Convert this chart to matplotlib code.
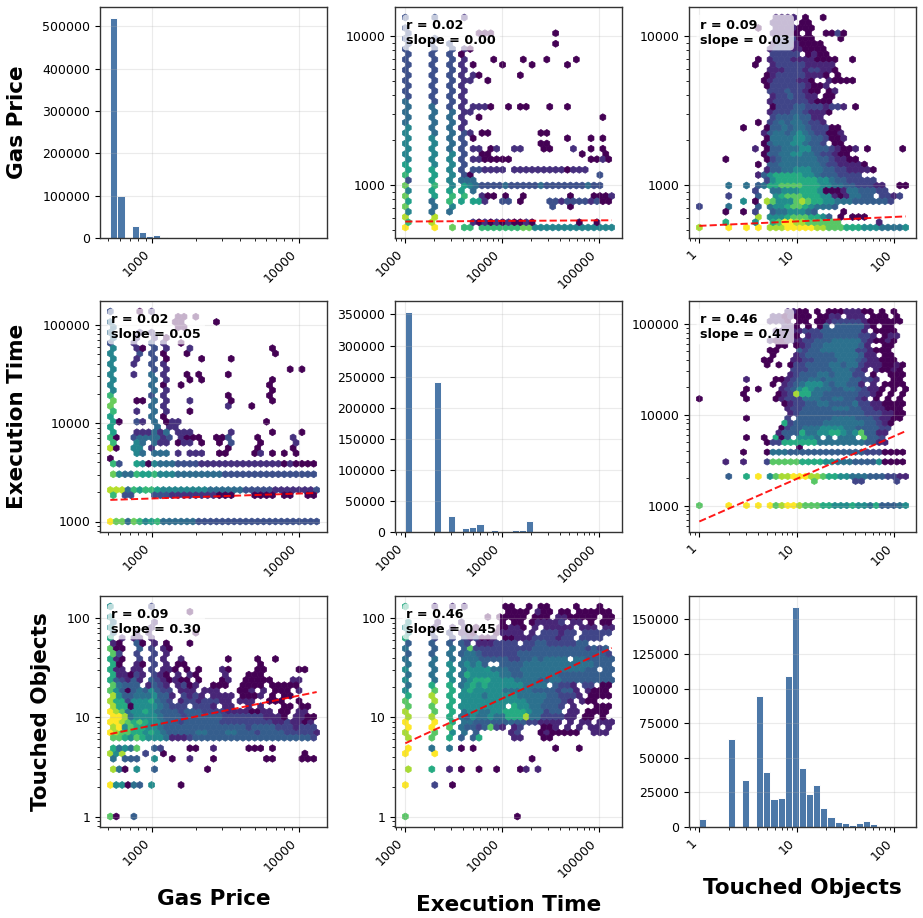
#!/usr/bin/env python3
"""Pair plot of gas price, execution time and touched objects (log-log)."""

import matplotlib
matplotlib.use("Agg")
import matplotlib.pyplot as plt
import matplotlib.ticker as mticker
import numpy as np

NAMES = ["Gas Price", "Execution Time", "Touched Objects"]

# log10 data range of each variable
LOG_LO = [2.714, 3.0, 0.0]
LOG_HI = [4.123, 5.136, 2.117]

# ── Histograms: 29 log-spaced bins per variable ───────────────────────────────
GAS_HIST = [520000, 99000, 0, 29000, 15000, 5500, 8000, 1500, 800, 500, 400, 300, 250,
            200, 150, 150, 120, 100, 100, 80, 80, 60, 60, 50, 50, 40, 40, 30, 30]
EXEC_HIST = [354000, 0, 0, 0, 241800, 0, 25800, 0, 6500, 7500, 13000, 1200, 3500, 500,
             300, 3500, 2500, 17000, 300, 300, 250, 200, 200, 150, 150, 100, 100, 80, 50]
TOUCHED_HIST = [5500, 0, 0, 0, 63400, 0, 33900, 0, 94800, 39700, 20500, 21300, 109400,
                159000, 42600, 24200, 30000, 13800, 7500, 3400, 2700, 1700, 2900, 4100,
                1900, 300, 1000, 300, 100]
HIST_STEP = [100000, 50000, 25000]

# ── Fits drawn in the off-diagonal panels ─────────────────────────────────────
PEARSON = {(0, 1): 0.02, (0, 2): 0.09, (1, 0): 0.02, (1, 2): 0.46, (2, 0): 0.09, (2, 1): 0.46}
SLOPE = {(0, 1): 0.004, (0, 2): 0.03, (1, 0): 0.05, (1, 2): 0.47, (2, 0): 0.30, (2, 1): 0.45}
INTERCEPT = {(0, 1): 2.742, (0, 2): 2.725, (1, 0): 3.084, (1, 2): 2.824, (2, 0): 0.018, (2, 1): -0.612}

# count per density level 0-9, the panels with a wide cloud spread their counts lower
LEVEL_COUNTS = [1, 4, 12, 35, 100, 300, 900, 2500, 8000, 25000]
CLOUD_COUNTS = [1, 3, 8, 20, 44, 140, 480, 1800, 6700, 25000]

# ── Hexagon tallies, row -> "column:levels" runs ──────────────────────────────
GAS_BY_EXEC = {
    40: "0:2 5:2 10:1", 38: "0:2", 37: "0:2 12:000 25:0", 36: "0:2 5:2",
    35: "0:2 4:2 7:2 25:0", 34: "0:2 5:2 8:2 10:1 11:0", 33: "0:2 4:2 7:2 9:0",
    32: "0:2 5:2 8:2 10:1 15:0 20:0 24:0 29:0", 31: "0:2 4:2 7:2 9:1 11:0 16:0 21:0 27:0",
    30: "0:2 5:2 8:2 10:1", 29: "0:2 4:2 7:2 9:1 11:1 12:0 19:0", 28: "0:2 5:2 8:2 10:1 11:1 14:0",
    27: "0:2 4:2 7:2 9:1", 26: "0:2 5:2 8:2 10:1", 25: "0:2 4:2 7:2 9:1",
    24: "0:3 5:2 8:2 10:1", 23: "0:3 4:3 7:2 9:1 11:1110 17:0 19:00 24:0 27:0",
    22: "0:3 5:3 8:3 10:11", 21: "0:3 4:3 7:3 9:1 12:0 33:0", 20: "0:3 5:3 8:3 10:1",
    19: "0:4 4:3 7:3 9:1", 18: "0:4 5:3 8:3 10:2 11:1 13:00 23:00",
    17: "0:4 4:4 7:3 9:2 11:0 27:0 31:0 33:0", 16: "0:4 5:4 8:3 10:2 23:00",
    15: "0:4 4:4 7:3 9:2 11:11 14:01 18:11 23:00 28:1 31:0 33:0",
    14: "0:4 5:4 8:4 10:2 13:00 30:0 34:0", 13: "0:4 4:4 7:4 9:2 11:110000 17:0 31:00 33:10",
    12: "0:5 5:4 8:4 10:2", 11: "0:5 4:5 7:4 9:2 11:221111 18:1111111110111",
    10: "0:6 5:5 8:4 10:20 33:2", 9: "0:2 4:5 7:4 9:333",
    8: "0:7 5:6 8:4 10:5432222 17:3222223222 27:2222322",
    7: "0:4 4:5 7:5 9:5 11:3",
    6: "0:7 5:5 8:6 10:6 13:100 17:0 20:0 28:0 32:0001",
    5: "0:5 4:3 7:6 9:5 11:551 16:22 19:0 24:22122221200", 4: "0:7 5:3 8:4 25:2 28:0",
    3: "0:4 4:3 7:3", 2: "0:8 5:8", 1: "0:6 4:8 11:10101010010 29:0 32:0",
    0: "0:9 5:9 8:7 10:66 13:66666667 21:7 22:44444444444444",
}
GAS_BY_TOUCHED = {
    40: "13:1111 18:0 21:0", 39: "12:1111 17:00", 38: "10:0 13:1111 17:000",
    37: "12:1111 16:0 18:0 21:0020", 36: "13:2222 17:000 24:0", 35: "12:12221 17:0000",
    34: "12:12221 17:10000", 33: "12:22222 18:0100", 32: "10:0 12:122211110000 26:0",
    31: "9:0 12:12222211111", 30: "12:111222122110", 29: "11:0 12:1222221110 23:0",
    28: "11:0 12:12222110 22:10 24:000", 27: "11:0 12:22222210 20:01", 26: "12:22232210 20:0 22:01",
    25: "12:12232211 21:0 22:0", 24: "12:12222221 20:0 21:00", 23: "12:0222332221 22:22 24:1 26:0",
    22: "12:1222332111 22:0", 21: "12:233343311", 20: "10:0 12:2343443221",
    19: "7:0 11:0 12:3343443222 22:00", 18: "11:1 12:3443454322 22:001", 17: "11:0 12:4444554332 22:001",
    16: "11:0 12:3444554332 23:00", 15: "9:1 11:0 12:33444553 20:3321 24:001 28:0 34:0",
    14: "11:0 12:3344554432 22:2100", 13: "4:0 11:0 12:2344444433 22:21100",
    12: "10:0 12:3344444443 22:2211110", 11: "11:1 12:33445554433 23:2211110",
    10: "10:1 11:3 12:5666665543 22:332222", 9: "11:2 12:5666666655 21:443322222",
    8: "5:4 8:4 10:3 11:4 12:6677776665 22:5443322211 34:00", 7: "9:2 12:445556665 21:0 22:001 25:4433322",
    6: "5:2 10:3 13:5677766655 23:1014433 31:2212", 5: "7:5 9:0 11:87 13:5557876655 23:4443333332",
    4: "0:2 5:4 10:3 12:45567765 20:4443", 3: "4:0 7:0 9:2 12:3445554 19:3 24:0",
    2: "10:8 12:5556777665 22:3 24:0 26:000", 1: "4:6 9:5 12:67 14:99 16:88777 21:777 30:1",
    0: "0:8 5:9 8:9 10:9 12:888 15:99999 20:88 22:7776 26:6655 30:5444 34:45",
}
EXEC_BY_GAS = {
    40: "0:2 5:0 7:1", 39: "11:0 12:0 14:0", 38: "0:3 11:00 18:0", 37: "0:3 11:00", 36: "0:3 5:1 7:1",
    35: "0:3 4:1 7:1 9:0", 34: "0:2 4:1 7:2 9:1 12:0", 33: "0:4 4:1 5:0 7:2 9:1 13:1 27:0",
    32: "0:4 5:2 7:2 9:0 13:0 28:0", 31: "0:4 4:1 7:2 9:0 15:0 20:0", 30: "0:4 4:1 7:2 9:1",
    29: "0:4 7:2 9:1 30:0 32:0", 28: "0:4 4:1 7:3 9:1 13:0 15:0 20:0", 27: "0:4 7:3 9:1 13:0 15:0 27:0",
    26: "0:4 7:3 9:0 12:0 27:0", 25: "0:4 7:3 9:1 27:0", 24: "0:6 7:2 9:1 20:0 27:0",
    23: "0:7 4:0 5:0 7:3 9:1 13:1 20:0 27:0", 22: "0:7 7:3 9:1 20:1 24:0", 21: "0:6 4:1 7:3 9:1 13:0",
    20: "0:5 7:3 9:0", 19: "0:5 1:0 4:2 5:1 7:3 9:0 10:1 11:1 26:0", 18: "0:5 8:3 10:1 11:1",
    17: "0:5 4:111 7:3 8:1 9:3 11:111 20:1 27:0 32:0",
    16: "0:6 1:0 4:23333 9:12 12:1000 18:00 20:2 25:0 31:1",
    15: "0:6 4:43 7:3 8:11 11:0 12:11 15:0 18:0 20:2 25:0 31:1", 14: "0:8 1:0 4:44 7:1 20:0 25:0 31:0",
    13: "4:43 7:333 11:1 13:111 18:00 24:01 27:0 29:0 31:0", 12: "0:0",
    11: "0:6 1:2 4:540 7:4333 11:2222 15:11111 20:11111 25:1111 29:0100 33:00",
    9: "0:74 2:33 4:655 7:6444 11:3333 15:3333 19:22222 24:22222 29:222222",
    6: "0:888 3:3 4:65665 9:444 12:44 14:444 17:3333 21:33 23:2222 27:2111 31:11112",
    5: "0:6 2:22 7:2221 11:1111 15:1110 19:00 24:000 27:0 29:00 33:000",
    0: "0:9 1:77 3:3 4:76 6:4 7:56 9:3333 13:3322 17:2222 21:2222 25:2222 29:2222 33:222",
}
EXEC_BY_TOUCHED = {
    40: "15:11 17:00 20:0 22:000 25:111 28:00 31:0 33:0", 39: "12:11 14:0 15:1 16:0 17:00 20:000 22:11 25:11 27:1 29:00 31:0 33:0",
    38: "12:111 15:0 17:00 20:00 22:1 23:22 25:222 28:1 29:00 31:00 33:00",
    37: "14:11 16:0 18:0 20:0 21:3 23:3 24:33 26:33 28:1 29:0 31:00",
    36: "13:111 16:11 18:2 19:22 21:33 23:33 25:333 28:1 30:0 31:00 33:0",
    35: "13:111 16:0 18:1 19:22 21:33 23:33 25:33 27:22 29:1 31:0 32:11",
    34: "12:100111 18:22 20:33 22:344 25:444 28:21 30:00 32:10",
    33: "13:00 16:0 17:12 19:33 21:44 23:444 26:43 28:1 31:00", 32: "12:00 17:3 18:23 20:3 21:444 24:44 26:4 27:22 29:10 31:00",
    31: "12:0 16:123 19:33 21:334 24:44 26:43 28:11 31:00", 30: "11:00 16:11 18:2233 22:3344 26:432 29:11 31:000",
    29: "11:0 13:0 15:0 16:22 18:333 21:344 24:344 27:21 29:11 31:000 33:00",
    28: "16:2223 20:3334 24:443 27:21 30:1 31:000 33:00", 27: "15:123 18:33 20:443 23:444 26:22 29:0 32:00 34:0",
    26: "8:1 13:00 15:1 16:23344 21:34444 26:3322 30:1 33:00", 25: "12:0 14:123 17:45 19:554 22:3443 26:31 29:1 31:0 32:00 34:0",
    24: "8:0 10:0 14:12 16:35 18:65 20:444 23:3344 27:321 30:10 33:0 35:0",
    23: "7:0 13:012 16:8 17:66 19:443 22:33 24:333 27:221 30:0 32:0 34:0",
    22: "0:0 8:0 13:012 16:2244 20:43344 25:3321 30:0 32:0 34:0",
    21: "14:01 16:223344 22:33334 27:2211 31:000 34:0", 20: "15:1 16:22333 21:33444 26:3322 30:1100 34:0",
    19: "15:12 17:33 19:33333 24:3333 28:2221 32:100", 18: "8:0 15:2 17:33333 22:34444 27:3332 31:11 33:00",
    17: "14:62 16:333 19:3344 23:444 26:44 28:33 30:21 32:0", 16: "14:0 15:233 18:4445555 25:4433 29:3322",
    15: "13:1 14:333 17:6 18:44556654 26:57 28:33 30:11", 14: "8:0 11:0 13:6 14:0 15:3 17:55 19:54 22:4 24:444 28:7 29:33 31:2",
    13: "11:0 12:22 14:666666 20:444444 26:4433 30:11", 12: "17:0",
    11: "7:0 11:0 12:4443333 19:33333 24:3333 28:2 29:22 31:000 34:0",
    9: "4:1 7:1 11:2 12:7777766 19:66554443 27:333 30:5 31:0000", 6: "5:3 8:6 10:9 12:578899 18:988 21:7665544 28:43332211",
    5: "19:7 26:22 33:2", 0: "0:7 5:9 8:9 10:9 12:97899 17:877766555 26:6554 30:6 31:333 34:45",
}
TOUCHED_BY_GAS = {
    40: "0:5 7:2", 39: "13:0", 38: "0:5", 37: "0:4 7:1", 36: "0:5 7:1", 35: "0:4 4:1 6:1 14:0", 34: "0:6 2:1 4:11 7:1",
    33: "0:1 1:0 4:3 5:0 7:1 9:0 13:0", 32: "0:7 1:00 5:3 7:2 9:1 10:0", 31: "0:7 1:2 4:2 7:2 9:1",
    30: "0:6 1:10 5:2 7:2 9:1 12:1 20:0 25:0 28:0", 29: "0:6 1:0 4:10 7:2 9:1 11:00 25:0",
    28: "0:6 1:11 4:11 7:2 9:11 11:0 13:0 15:0 19:1 20:0 25:00 32:00",
    27: "0:6 1:110 4:21 7:210 11:1 13:10 19:1 23:00 25:0",
    26: "0:6 1:321 4:31 7:3210 11:100 15:0 19:01 23:0 24:00 26:00 31:11",
    25: "0:7 1:433 4:3 6:1321 11:1201 17:000 22:000 25:0 27:00 29:000",
    24: "0:7 1:530 4:343 7:53 9:22 12:111 16:111 22:00 24:1 26:1 28:000 32:1",
    23: "0:8 1:533 4:444 7:533 10:1 12:2121 17:111 20:1 22:000 25:1 27:0 29:00",
    22: "0:8 1:662 4:555 7:6432 12:12212 17:22 19:11 22:11 24:1 27:000 32:0",
    21: "0:8 1:660 4:555 7:54322 12:2 14:222 17:1 19:11 23:1 25:1 29:00 32:00",
    20: "0:98 2:74 4:55 6:6 7:54 9:33 11:32 13:33 15:322 18:22 20:11 22:11 24:00 26:11 29:00 32:11",
    19: "0:99 2:84555 7:54 9:33 11:3233 15:3333 19:2222 23:22 25:21 27:11 29:0 31:110 34:0",
    18: "0:99 2:87 4:67 6:65 8:54 10:33 12:2333 16:33322 21:2222 25:22211 30:21 32:10 34:1",
    17: "0:8957665 7:5 8:43 10:3 11:3333 15:33333 20:33323 25:33322 30:2122 34:2",
    16: "0:98776656 8:5433 12:33344 17:33344 22:33323 27:33322 32:2221",
    15: "0:7 1:76 3:5 4:76 6:555 9:4 10:1 11:11 13:2 14:333333 20:3333 24:33333 29:33333 34:2",
    13: "0:6454 4:7 7:32 13:00 17:1 23:000 27:0", 12: "0:858 6:2 9:0 33:0",
    11: "0:4 2:333 7:5 10:0 13:1 17:0 26:00 32:000", 9: "0:840 4:5 7:3 16:0",
    6: "0:955 3:043 7:5 12:0", 0: "0:70 4:3",
}
TOUCHED_BY_EXEC = {
    40: "0:6 5:1 8:1 10:1 17:00 21:0 23:00 29:0 33:0", 39: "17:000 20:0 22:100 26:00 29:00 31:00 33:00",
    38: "14:0 16:000 19:00 22:000 26:11000 31:00 34:00", 37: "0:5 5:1 9:1 16:0 18:00 21:011111 26:1 28:11 31:0 33:00",
    36: "0:5 5:1 8:1 10:1 12:0 16:00 18:110 22:1 24:11111 30:111 34:11",
    35: "0:5 4:2 7:2 9:110 15:0 16:1111 21:1 23:222 26:122 30:222 33:22",
    34: "0:6 5:2 8:2 10:212 13:00 15:1 17:00 19:111 22:2222 26:122 30:2222",
    33: "0:3 4:3 7:3 9:32 12:111 15:222 18:2 20:22 22:33 24:22 26:222 29:33",
    32: "0:4 5:3 8:4 10:37222 15:222 18:2222 22:33 24:33 26:33 28:33 30:32323",
    31: "0:3 4:3 7:4 9:34432 14:2 15:22 17:22 19:333 22:33 24:33 26:33 28:33 30:33 32:33 34:2",
    30: "0:4 5:4 8:4 10:4443 14:33 16:33 18:22 20:33 22:43 24:44 26:44 29:44 31:33 33:33 35:3",
    29: "0:4 4:4 7:5 9:4 10:5453 16:33 18:33 20:44 22:44 24:44 26:44 28:44 30:44 32:33 34:3",
    28: "0:5 5:4 8:5 10:45555 14:44 16:44 18:33 20:44 22:44 24:44 26:44 28:44 30:433 34:33",
    27: "0:4 4:4 7:5 9:46555 14:55 16:44 18:33 20:44 22:44 24:44 26:33 28:333 31:333 34:3",
    26: "0:5 5:4 8:5 10:45666 14:55 16:555 19:44 21:44 23:33 25:44 27:33 29:3333 33:333",
    25: "0:4 4:6 7:6 9:45656 14:555 17:555 20:44 22:44 25:322 28:1 30:22 33:00",
    24: "0:5 5:7 8:6 10:56555 15:55 17:44 19:444 22:33 24:33 26:2 27:33 29:1 31:1000",
    23: "0:6 4:8 7:6 9:55554 14:5 15:55 17:554 20:44 22:44 24:33 26:222 29:1 31:0000",
    22: "0:7 5:8 8:6 10:55555 15:5 16:55 18:555 21:444 24:333 27:21 30:1 31:00",
    21: "0:7 4:7 7:6 9:55555 14:5 15:55 18:655 21:44 23:333 26:2 28:1 32:000",
    20: "0:8 5:7 8:6 10:45544 15:55 17:66 19:665 22:442 25:33 28:11 31:0 32:00 34:0",
    19: "0:8 4:8 7:6 9:43544 14:544 17:66 19:68 21:44 23:22 25:221 28:1 30:00 33:0",
    18: "0:9 5:9 8:6 10:4433 14:33332 18:33322 23:111 26:1 28:1 30:11 33:111",
    17: "0:9 4:9 7:7 9:433 12:23721 18:12 23:00 25:1 27:1 29:1 31:11 34:1",
    16: "0:8 5:7 8:5 10:4 12:3 18:12 23:0100 27:00 29:0 32:111", 15: "0:8 4:7 7:6 9:3 11:36 18:11 23:00",
    13: "0:9 4:4 7:4 9:0 11:0 25:0 29:0", 12: "0:9 5:9", 11: "21:0",
    9: "0:8 4:6 7:1 9:0 12:0 15:0 19:01 22:1", 6: "0:9 5:2 8:0", 0: "0:7 19:0",
}
CELLS = {(0, 1): GAS_BY_EXEC, (0, 2): GAS_BY_TOUCHED, (1, 0): EXEC_BY_GAS,
         (1, 2): EXEC_BY_TOUCHED, (2, 0): TOUCHED_BY_GAS, (2, 1): TOUCHED_BY_EXEC}
CLOUD_PANELS = [(0, 2), (1, 2), (2, 0), (2, 1)]
HISTS = [GAS_HIST, EXEC_HIST, TOUCHED_HIST]

GRIDSIZE = 35
NY = int(GRIDSIZE / np.sqrt(3))
BAR_COLOR = "#4c78a8"

# axes boxes in figure pixels
W, H = 923, 918
LEFTS = [100, 395, 689]
TOPS = [7, 301, 596]
AX_W, AX_H = 227, 231


def expand_cells(rows, ix, iy, counts):
    """Turn the row tallies into log-space bin centres with counts."""
    sx = (LOG_HI[ix] - LOG_LO[ix]) / GRIDSIZE
    sy = (LOG_HI[iy] - LOG_LO[iy]) / NY
    xs, ys, cs = [], [], []
    for row, runs in rows.items():
        for run in runs.split():
            start, levels = run.split(":")
            for k, lv in enumerate(levels):
                col = int(start) + k
                xs.append(10 ** (LOG_LO[ix] + (col + 0.5 * (row % 2)) * sx))
                ys.append(10 ** (LOG_LO[iy] + row * 0.5 * sy))
                cs.append(counts[int(lv)])
    return np.array(xs), np.array(ys), np.array(cs)


def padded(lo, hi):
    pad = 0.05 * (hi - lo)
    return 10 ** (lo - pad), 10 ** (hi + pad)


def style_log_axis(axis):
    axis.set_major_formatter(mticker.FuncFormatter(lambda v, _: f"{v:.0f}"))
    axis.set_minor_formatter(mticker.NullFormatter())


plt.rcParams.update({"font.size": 9, "axes.linewidth": 1.0, "axes.edgecolor": "#333333"})
fig = plt.figure(figsize=(W / 100, H / 100), dpi=100)

for i in range(3):          # row: y variable
    for j in range(3):      # column: x variable
        ax = fig.add_axes([LEFTS[j] / W, 1 - (TOPS[i] + AX_H) / H, AX_W / W, AX_H / H])
        ax.set_xscale("log")
        ax.set_xlim(padded(LOG_LO[j], LOG_HI[j]))

        if i == j:
            edges = 10 ** np.linspace(LOG_LO[j], LOG_HI[j], len(HISTS[j]) + 1)
            ax.bar(edges[:-1], HISTS[j], width=np.diff(edges), align="edge",
                   color=BAR_COLOR, edgecolor="white", linewidth=0.7)
            ax.yaxis.set_major_locator(mticker.MultipleLocator(HIST_STEP[i]))
        else:
            counts = CLOUD_COUNTS if (i, j) in CLOUD_PANELS else LEVEL_COUNTS
            xs, ys, cs = expand_cells(CELLS[(i, j)], j, i, counts)
            ax.set_yscale("log")
            ax.hexbin(xs, ys, C=cs, gridsize=GRIDSIZE, xscale="log", yscale="log",
                      bins="log", cmap="viridis", reduce_C_function=np.sum, linewidths=0.5,
                      extent=(LOG_LO[j], LOG_HI[j], LOG_LO[i], LOG_HI[i]))

            slope, icpt = SLOPE[(i, j)], INTERCEPT[(i, j)]
            line_x = np.array([LOG_LO[j], LOG_HI[j]])
            line_y = icpt + slope * line_x
            ax.plot(10 ** line_x, 10 ** line_y, color="red", ls="--", lw=1.4, alpha=0.9)

            # the fit can reach below the data, the limits follow it
            ax.set_ylim(padded(min(LOG_LO[i], line_y.min()), max(LOG_HI[i], line_y.max())))
            ax.set_xlim(padded(LOG_LO[j], LOG_HI[j]))

            ax.text(0.05, 0.95, f"r = {PEARSON[(i, j)]:.2f}\nslope = {slope:.2f}",
                    transform=ax.transAxes, va="top", fontsize=9.2, fontweight="bold",
                    bbox=dict(boxstyle="round", facecolor="white", alpha=0.7, edgecolor="none"))
            style_log_axis(ax.yaxis)

        style_log_axis(ax.xaxis)
        ax.tick_params(axis="x", which="major", labelrotation=45)
        for lab in ax.get_xticklabels():
            lab.set_ha("right")
        ax.grid(True, which="major", alpha=0.25, linewidth=0.8)

        if i == 2:
            ax.set_xlabel(NAMES[j], fontsize=15.5, fontweight="bold", labelpad=11)
        if j == 0:
            ax.set_ylabel(NAMES[i], fontsize=15.5, fontweight="bold", labelpad=11)

fig.savefig("out.png", dpi=100)
plt.close(fig)
